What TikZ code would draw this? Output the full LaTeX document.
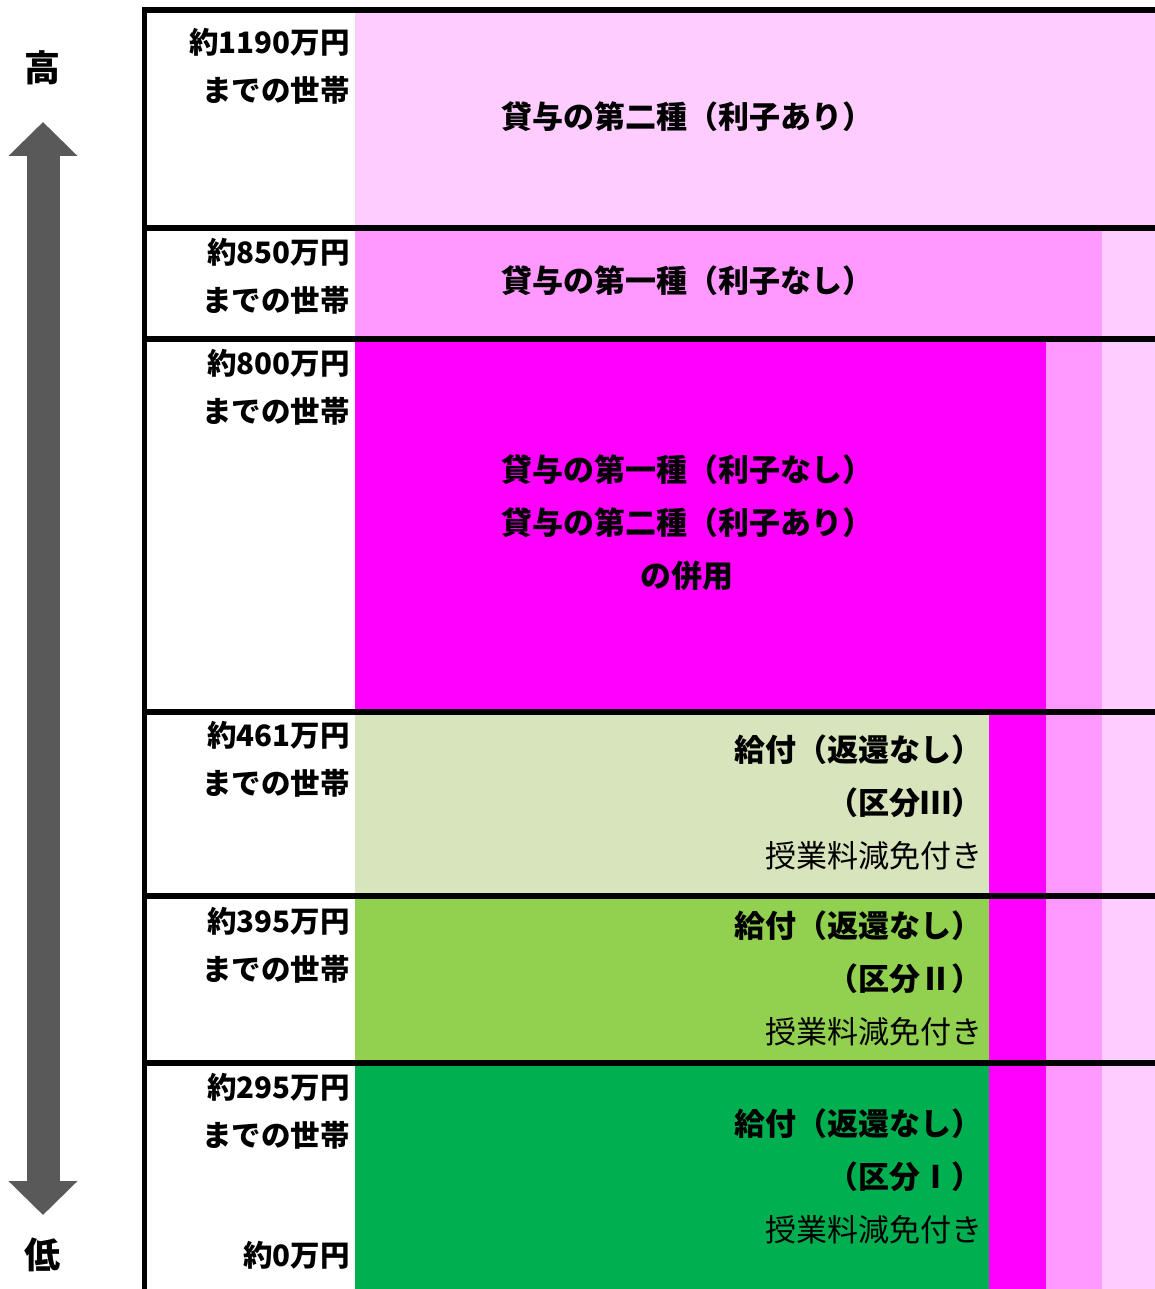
\documentclass[tikz,border=0pt]{standalone}
\usepackage{fontspec}
\setmainfont{Noto Sans CJK JP}
\usepackage{xcolor}
\usetikzlibrary{arrows.meta}
\definecolor{pinklight}{HTML}{FFCCFF}
\definecolor{pinkmid}{HTML}{FF99FF}
\definecolor{magentafull}{HTML}{FF00FF}
\definecolor{greenpale}{HTML}{D8E4BC}
\definecolor{greenmid}{HTML}{92D050}
\definecolor{greendark}{HTML}{00B050}
\definecolor{arrowgray}{HTML}{595959}
\tikzset{
    band-line/.style = {draw=black, line width=6pt},
    limit-label/.style = {anchor=east, align=right, inner sep=0pt, font=\bfseries\fontsize{29.5}{48}\selectfont},
    loan-label/.style = {align=center, inner sep=0pt, font=\bfseries\fontsize{31}{53}\selectfont},
    grant-label/.style = {anchor=east, align=right, inner sep=0pt, font=\fontsize{31}{53}\selectfont},
    axis-label/.style = {inner sep=0pt, font=\bfseries\fontsize{36}{36}\selectfont},
    axis-arrow/.style = {draw=arrowgray, line width=33pt, arrows={Triangle[width=67pt,length=34pt]-Triangle[width=67pt,length=34pt]}},
}

\begin{document}
\begin{tikzpicture}[x=1pt,y=-1pt]
\useasboundingbox (0,0) rectangle (1155,1289);
% colour bands, drawn from the back
\fill[pinklight] (355,10) rectangle (1155,1289);
\fill[pinkmid] (355,228) rectangle (1102,1289);
\fill[magentafull] (355,339) rectangle (1046,1289);
\fill[greenpale] (355,712) rectangle (989,896);
\fill[greenmid] (355,896) rectangle (989,1063);
\fill[greendark] (355,1063) rectangle (989,1289);
\foreach \y in {10,228,339,712,896,1063}
    \draw[band-line] (142,\y) -- (1155,\y);
\draw[line width=5pt] (144,7) -- (144,1289);

\node[limit-label] (limit-1190) at (350,66) {約1190万円\\までの世帯};
\node[limit-label] (limit-850) at (350,276) {約850万円\\までの世帯};
\node[limit-label] (limit-800) at (350,387) {約800万円\\までの世帯};
\node[limit-label] (limit-461) at (350,759) {約461万円\\までの世帯};
\node[limit-label] (limit-395) at (350,945) {約395万円\\までの世帯};
\node[limit-label] (limit-295) at (350,1111) {約295万円\\までの世帯};
\node[limit-label] (limit-0) at (350,1255) {約0万円};

\node[loan-label] (loan-second) at (687,117) {貸与の第二種（利子あり）};
\node[loan-label] (loan-first) at (687,281) {貸与の第一種（利子なし）};
\node[loan-label] (loan-both) at (687,523) {貸与の第一種（利子なし）\\貸与の第二種（利子あり）\\の併用};

\node[grant-label] (grant-3) at (983,802) {{\bfseries 給付（返還なし）}\\{\bfseries （区分Ⅲ）}\\授業料減免付き};
\node[grant-label] (grant-2) at (983,978) {{\bfseries 給付（返還なし）}\\{\bfseries （区分Ⅱ）}\\授業料減免付き};
\node[grant-label] (grant-1) at (983,1176) {{\bfseries 給付（返還なし）}\\{\bfseries （区分Ⅰ）}\\授業料減免付き};

\node[axis-label] (axis-high) at (42,68) {高};
\node[axis-label] (axis-low) at (42,1255) {低};
\coordinate (arrow-top) at (43,122);
\coordinate (arrow-bottom) at (43,1215);
\draw[axis-arrow] (arrow-top) -- (arrow-bottom);
\end{tikzpicture}
\end{document}
